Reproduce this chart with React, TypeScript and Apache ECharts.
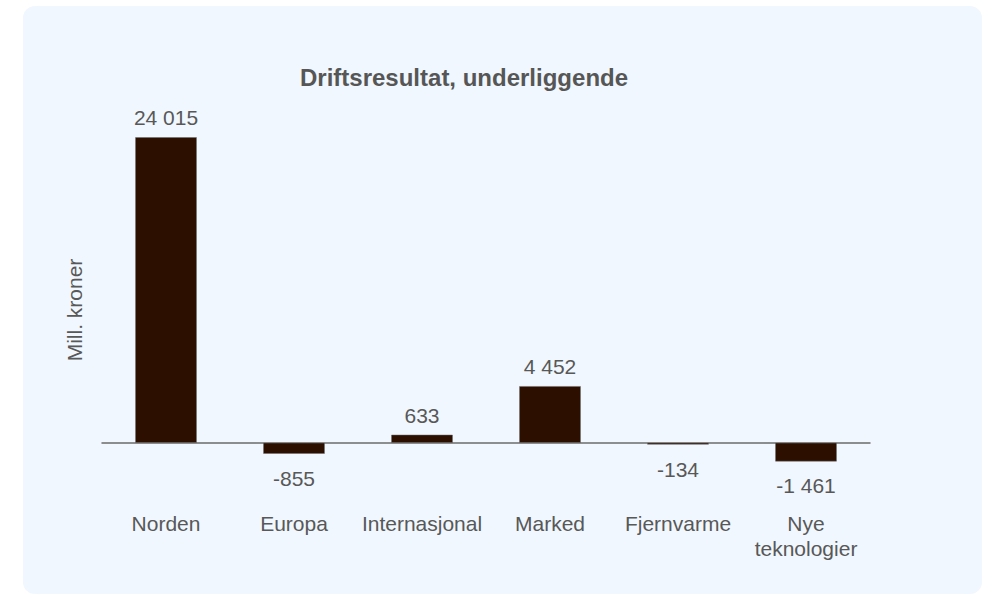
import React, { useEffect, useRef } from "react";
import * as echarts from "echarts";

const categories = ["Norden", "Europa", "Internasjonal", "Marked", "Fjernvarme", "Nye teknologier"];
const values = [24015, -855, 633, 4452, -134, -1461];
const titleText = "Driftsresultat, underliggende";
const yAxisName = "Mill. kroner";

const FONT = "'Liberation Sans', Arial, Helvetica, sans-serif";
const TEXT = "#585858";

function fmt(v: number): string {
  const s = Math.abs(v).toString().replace(/\B(?=(\d{3})+(?!\d))/g, " ");
  return (v < 0 ? "-" : "") + s;
}

export default function App() {
  const ref = useRef<HTMLDivElement>(null);
  useEffect(() => {
    if (!ref.current) return;
    const chart = echarts.init(ref.current, undefined, { renderer: "svg" });
    chart.setOption({
      animation: false,
      backgroundColor: "#ffffff",
      textStyle: { fontFamily: FONT },
      graphic: [
        {
          type: "rect",
          z: 0,
          shape: { x: 23, y: 6, width: 959, height: 588, r: 12 },
          style: { fill: "#f0f7fe" },
          silent: true,
        },
      ],
      title: {
        text: titleText,
        left: 300,
        top: 65,
        padding: 0,
        textStyle: { fontFamily: FONT, fontSize: 24, fontWeight: "bold", color: "#565656" },
      },
      grid: { left: 102, right: 120, top: 112, bottom: 116, containLabel: false },
      xAxis: {
        type: "category",
        data: categories,
        axisTick: { show: false },
        axisLine: { show: true, onZero: true, lineStyle: { color: "#6b6b6b", width: 1.5 } },
        axisLabel: {
          interval: 0,
          margin: 30,
          color: TEXT,
          fontFamily: FONT,
          fontSize: 21,
          lineHeight: 25,
          formatter: (v: string) => v.replace(" ", "\n"),
        },
        splitLine: { show: false },
      },
      yAxis: {
        type: "value",
        min: -3000,
        max: 26000,
        axisLabel: { show: false },
        axisTick: { show: false },
        axisLine: { show: false },
        splitLine: { show: false },
        name: yAxisName,
        nameLocation: "middle",
        nameGap: 17,
        nameTextStyle: { color: TEXT, fontFamily: FONT, fontSize: 21, padding: [0, 27, 0, 0] },
      },
      series: [
        {
          type: "bar",
          barWidth: "48%",
          data: values.map((v) => ({
            value: v,
            label: { position: v >= 0 ? "top" : "bottom", distance: v >= 0 ? 9 : 14 },
          })),
          itemStyle: { color: "#2d0f00", borderColor: "#6b6b6b", borderWidth: 0.5 },
          label: {
            show: true,
            color: TEXT,
            fontFamily: FONT,
            fontSize: 21,
            formatter: (p: any) => fmt(p.value),
          },
        },
      ],
    });
    return () => chart.dispose();
  }, []);
  return (
    <div
      ref={ref}
      style={{ position: "absolute", left: 0, top: 0, width: 990, height: 597 }}
    />
  );
}
